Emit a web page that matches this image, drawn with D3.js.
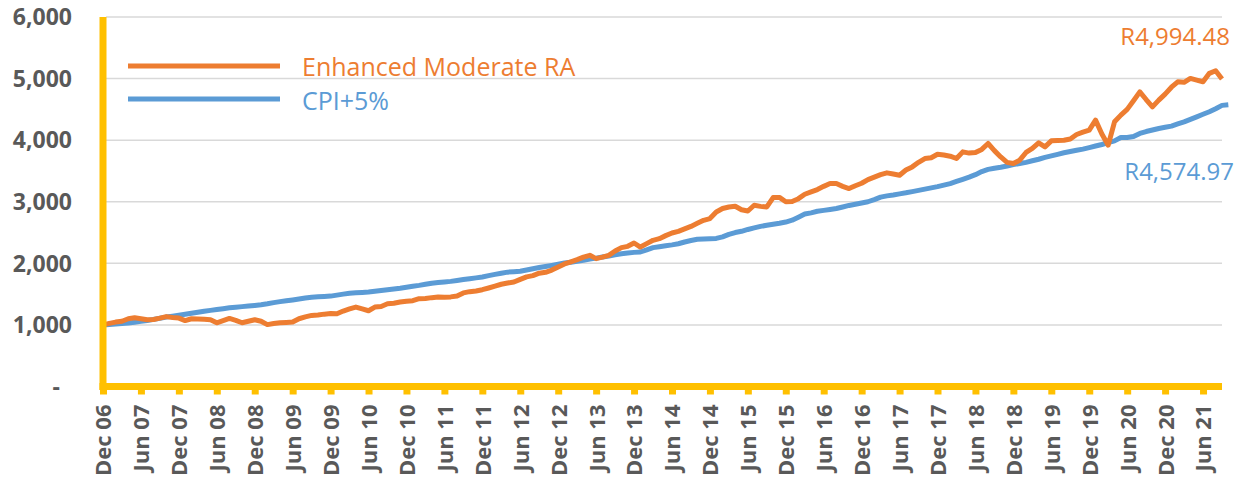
<!DOCTYPE html>
<html>
<head>
<meta charset="utf-8">
<script src="https://cdn.jsdelivr.net/npm/d3@7"></script>
<style>
  html, body { margin: 0; padding: 0; background: #fff; }
  svg { display: block; }
</style>
</head>
<body>
<svg id="chart" width="1235" height="481"></svg>
<script>
// Monthly index values, Dec 06 to Sep 21 (starting at 1,000)
const fundValues = [
  1000,
  1025, 1046, 1060, 1100, 1117, 1100, 1084, 1089, 1110, 1135, 1120, 1111,
  1070, 1100, 1098, 1092, 1084, 1035, 1070, 1105, 1075, 1035, 1060, 1084,
  1060, 1005, 1022, 1035, 1040, 1046, 1100, 1130, 1154, 1160, 1175, 1185,
  1180, 1225, 1260, 1290, 1260, 1230, 1290, 1300, 1344, 1352, 1371, 1385,
  1393, 1426, 1430, 1443, 1452, 1448, 1455, 1469, 1520, 1540, 1552, 1572,
  1600, 1630, 1660, 1680, 1697, 1740, 1780, 1800, 1840, 1855, 1890, 1940,
  1990, 2025, 2060, 2100, 2130, 2076, 2100, 2130, 2200, 2255, 2276, 2330,
  2265, 2320, 2374, 2401, 2450, 2493, 2520, 2560, 2600, 2650, 2699, 2727,
  2834, 2890, 2915, 2927, 2870, 2850, 2943, 2925, 2916, 3068, 3070, 3000,
  3005, 3050, 3122, 3160, 3198, 3250, 3295, 3295, 3250, 3214, 3260, 3300,
  3360, 3400, 3440, 3469, 3450, 3431, 3515, 3566, 3640, 3702, 3715, 3772,
  3760, 3740, 3702, 3810, 3790, 3799, 3850, 3946, 3830, 3728, 3640, 3621,
  3675, 3800, 3865, 3957, 3892, 3989, 3995, 3998, 4020, 4092, 4130, 4163,
  4325, 4100, 3919, 4298, 4407, 4500, 4640, 4785, 4660, 4541, 4650, 4748,
  4860, 4948, 4940, 5003, 4975, 4948, 5085, 5127, 4994.48
];

const benchmarkValues = [
  1000,
  1007, 1015, 1022, 1030, 1044, 1058, 1073, 1090, 1108, 1127, 1142, 1156,
  1172, 1188, 1205, 1222, 1236, 1250, 1264, 1278, 1287, 1297, 1306, 1316,
  1327, 1343, 1362, 1378, 1392, 1406, 1421, 1437, 1450, 1456, 1462, 1468,
  1484, 1500, 1515, 1521, 1528, 1536, 1548, 1560, 1572, 1584, 1596, 1611,
  1627, 1642, 1660, 1678, 1688, 1698, 1707, 1721, 1736, 1751, 1764, 1778,
  1800, 1821, 1840, 1857, 1864, 1871, 1892, 1913, 1931, 1949, 1967, 1986,
  2005, 2019, 2034, 2049, 2070, 2085, 2103, 2120, 2140, 2157, 2168, 2178,
  2184, 2220, 2255, 2270, 2285, 2300, 2318, 2346, 2370, 2390, 2396, 2401,
  2405, 2430, 2470, 2500, 2520, 2550, 2575, 2600, 2618, 2635, 2650, 2670,
  2700, 2750, 2800, 2820, 2845, 2860, 2875, 2890, 2915, 2940, 2960, 2980,
  3000, 3035, 3075, 3095, 3110, 3128, 3145, 3165, 3185, 3205, 3225, 3245,
  3270, 3295, 3330, 3365, 3400, 3440, 3490, 3525, 3545, 3560, 3580, 3605,
  3620, 3640, 3665, 3690, 3720, 3745, 3770, 3795, 3815, 3835, 3855, 3880,
  3905, 3930, 3960, 3989, 4043, 4043, 4060, 4110, 4140, 4165, 4190, 4209,
  4228, 4263, 4298, 4338, 4379, 4420, 4461, 4510, 4565, 4574.97
];

const seriesNames = ["Enhanced Moderate RA", "CPI+5%"];
const seriesColors = ["#ED7D31", "#5B9BD5"];
const endLabels = ["R4,994.48", "R4,574.97"];

const tickLabels = [
  "Dec 06", "Jun 07", "Dec 07", "Jun 08", "Dec 08", "Jun 09", "Dec 09", "Jun 10",
  "Dec 10", "Jun 11", "Dec 11", "Jun 12", "Dec 12", "Jun 13", "Dec 13", "Jun 14",
  "Dec 14", "Jun 15", "Dec 15", "Jun 16", "Dec 16", "Jun 17", "Dec 17", "Jun 18",
  "Dec 18", "Jun 19", "Dec 19", "Jun 20", "Dec 20", "Jun 21"
];
const yTicks = [0, 1000, 2000, 3000, 4000, 5000, 6000];

const svg = d3.select("#chart");
const axisColor = "#FFC000";
const labelColor = "#595959";
const boldFont = "'Open Sans', 'Liberation Sans', sans-serif";

const x = d3.scaleLinear().domain([0, fundValues.length - 1]).range([103, 1222]);
const y = d3.scaleLinear().domain([0, 6000]).range([386.5, 17]);

// horizontal gridlines
svg.append("g")
  .selectAll("line")
  .data(yTicks.filter(d => d > 0))
  .join("line")
  .attr("x1", 106).attr("x2", 1222)
  .attr("y1", d => y(d)).attr("y2", d => y(d))
  .attr("stroke", "#D9D9D9")
  .attr("stroke-width", 1.5);

// y-axis labels
svg.append("g")
  .selectAll("text")
  .data(yTicks)
  .join("text")
  .attr("x", d => d === 0 ? 60 : 72)
  .attr("y", d => y(d))
  .attr("dy", "0.36em")
  .attr("text-anchor", "end")
  .attr("font-family", boldFont)
  .attr("font-weight", "bold")
  .attr("font-size", 23)
  .attr("fill", labelColor)
  .text(d => d === 0 ? "-" : d3.format(",")(d));

// series lines (benchmark underneath)
const line = d3.line()
  .x((d, i) => x(i))
  .y(d => y(d));

[benchmarkValues, fundValues].forEach((vals, k) => {
  svg.append("path")
    .datum(vals)
    .attr("fill", "none")
    .attr("stroke", k === 0 ? seriesColors[1] : seriesColors[0])
    .attr("stroke-width", 5)
    .attr("stroke-linejoin", "round")
    .attr("stroke-linecap", "butt")
    .attr("d", line);
});

// x axis
const xAxis = d3.axisBottom(x)
  .tickValues(d3.range(0, fundValues.length, 6))
  .tickFormat((d, i) => tickLabels[i])
  .tickSize(8)
  .tickSizeOuter(0);

const gx = svg.append("g")
  .attr("transform", `translate(0,${y(0)})`)
  .call(xAxis);
gx.select(".domain").remove();
gx.append("line")
  .attr("x1", 99.5).attr("x2", 1222)
  .attr("y1", 0).attr("y2", 0)
  .attr("stroke", axisColor)
  .attr("stroke-width", 7);
gx.selectAll(".tick line")
  .attr("stroke", axisColor)
  .attr("stroke-width", 7);
gx.selectAll(".tick text")
  .attr("font-family", boldFont)
  .attr("font-weight", "bold")
  .attr("font-size", 22)
  .attr("fill", labelColor)
  .attr("text-anchor", "end")
  .attr("transform", "translate(0,18) rotate(-90)")
  .attr("x", 0)
  .attr("y", 0)
  .attr("dy", "0.36em");

// y axis line
svg.append("line")
  .attr("x1", 103).attr("x2", 103)
  .attr("y1", 17).attr("y2", y(0) + 3.5)
  .attr("stroke", axisColor)
  .attr("stroke-width", 7);

// legend
const legendRows = [
  { name: seriesNames[0], color: seriesColors[0], ly: 66, ty: 76 },
  { name: seriesNames[1], color: seriesColors[1], ly: 99, ty: 110 }
];
const legend = svg.append("g");
legendRows.forEach(r => {
  legend.append("line")
    .attr("x1", 128).attr("x2", 280)
    .attr("y1", r.ly).attr("y2", r.ly)
    .attr("stroke", r.color)
    .attr("stroke-width", 5);
  legend.append("text")
    .attr("x", 302).attr("y", r.ty)
    .attr("font-family", "'Open Sans', sans-serif")
    .attr("font-size", 25)
    .attr("fill", r.color)
    .text(r.name);
});

// end-value labels
svg.append("text")
  .attr("x", 1230).attr("y", 45)
  .attr("text-anchor", "end")
  .attr("font-family", "'Open Sans', sans-serif")
  .attr("font-size", 24)
  .attr("fill", seriesColors[0])
  .text(endLabels[0]);
svg.append("text")
  .attr("x", 1234).attr("y", 180)
  .attr("text-anchor", "end")
  .attr("font-family", "'Open Sans', sans-serif")
  .attr("font-size", 24)
  .attr("fill", seriesColors[1])
  .text(endLabels[1]);
</script>
</body>
</html>
